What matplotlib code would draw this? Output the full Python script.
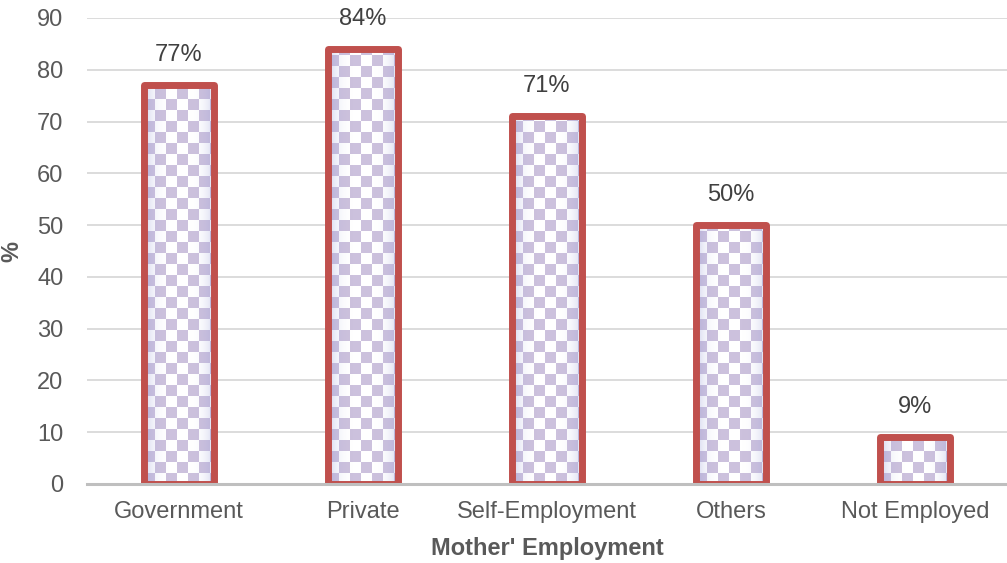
import numpy as np
import matplotlib
matplotlib.use("Agg")
import matplotlib.pyplot as plt

plt.rcParams['font.family'] = ['Liberation Sans', 'DejaVu Sans']

categories = ["Government", "Private", "Self-Employment", "Others", "Not Employed"]
values = [77, 84, 71, 50, 9]
labels = ["77%", "84%", "71%", "50%", "9%"]
yticks = [0, 10, 20, 30, 40, 50, 60, 70, 80, 90]

W, H = 1007, 563
fig = plt.figure(figsize=(W / 100, H / 100), dpi=100)
ax = fig.add_axes([87 / W, 1 - 484 / H, 1 - 87 / W, (484 - 18) / H])

x = np.arange(len(categories))
bars = ax.bar(x, values, width=0.385, color="none", edgecolor="#C0504D",
              linewidth=5.0, joinstyle="round", zorder=3)

ax.set_xlim(-0.5, 4.5)
ax.set_ylim(0, 90)

# checkerboard fill, clipped to each bar
px_per_x = (W - 87) / 5.0
px_per_y = (484 - 18) / 90.0
cell = 11.0
for b in bars:
    x0, y0 = b.get_x(), b.get_y()
    bw, bh = b.get_width(), b.get_height()
    nx = int(np.ceil(bw * px_per_x / cell))
    ny = int(np.ceil(bh * px_per_y / cell))
    board = (np.add.outer(np.arange(ny), np.arange(nx)) % 2).astype(float)
    purple = np.array([0.80, 0.76, 0.87])
    white = np.array([1.0, 1.0, 1.0])
    img = np.where(board[..., None] == 0, purple, white)
    ext = [x0, x0 + nx * cell / px_per_x, y0, y0 + ny * cell / px_per_y]
    im = ax.imshow(img, extent=ext, origin="lower", aspect="auto",
                   interpolation="nearest", zorder=2)
    im.set_clip_path(b)
    # bluish edge shading
    g = np.linspace(-1, 1, 60)
    alpha = np.clip(np.abs(g) ** 4, 0, 1) * 0.45
    shade = np.zeros((1, 60, 4))
    shade[0, :, :3] = [0.60, 0.62, 0.85]
    shade[0, :, 3] = alpha
    sh = ax.imshow(shade, extent=[x0, x0 + bw, y0, y0 + bh], aspect="auto",
                   interpolation="bilinear", zorder=2.5)
    sh.set_clip_path(b)

for b, lab in zip(bars, labels):
    ax.annotate(lab, (b.get_x() + b.get_width() / 2, b.get_height()),
                xytext=(0, 22), textcoords="offset points", ha="center",
                va="center", fontsize=17, color="#404040")

ax.set_yticks(yticks)
ax.set_xticks(x)
ax.set_xticklabels(categories)
ax.tick_params(axis="both", length=0, labelsize=17, colors="#595959")
ax.tick_params(axis="y", pad=17)
ax.tick_params(axis="x", pad=12)
ax.yaxis.grid(True, color="#D9D9D9", linewidth=1.3, zorder=0)
ax.set_axisbelow(True)
for s in ["top", "right", "left"]:
    ax.spines[s].set_visible(False)
ax.spines["bottom"].set_color("#BFBFBF")
ax.spines["bottom"].set_linewidth(2.2)
ax.spines["bottom"].set_zorder(4)

ax.set_xlabel("Mother' Employment", fontsize=17, fontweight="bold",
              color="#595959", labelpad=10)
ax.set_ylabel("%", fontsize=17, fontweight="bold", color="#595959",
              labelpad=10)

fig.savefig("out.png", dpi=100)
